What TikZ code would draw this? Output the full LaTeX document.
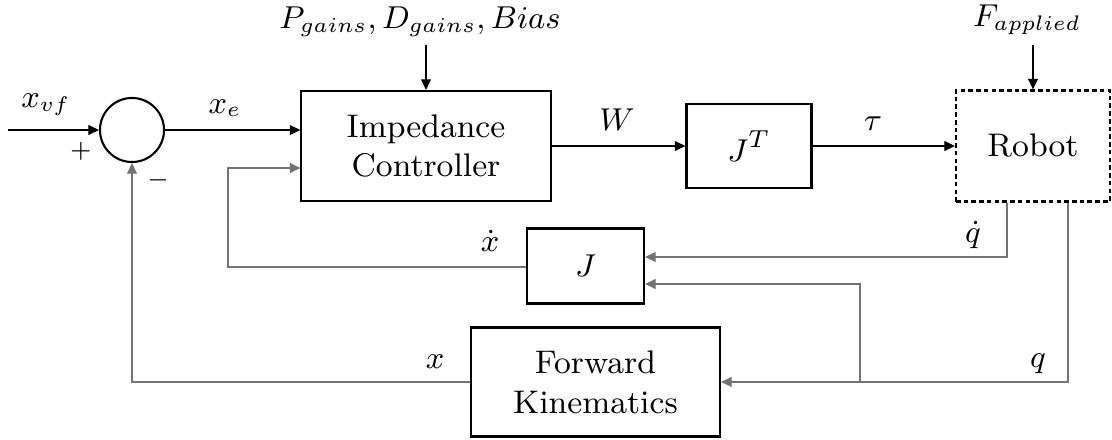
\documentclass[tikz,border=0pt]{standalone}
\usetikzlibrary{arrows.meta,positioning}

\tikzset{
    block/.style={draw, line width=0.6pt, align=center, inner sep=0pt,
        font=\fontsize{9.3}{11.3}\selectfont},
    robotbox/.style={block, dash pattern=on 1.3pt off 0.9pt},
    sumnode/.style={draw, circle, line width=0.6pt, minimum size=0.64cm, inner sep=0pt},
    sig/.style={line width=0.35pt, -{Triangle[length=3pt,width=2.8pt]}},
    fb/.style={sig, draw=black!55},
    lbl/.style={inner sep=0.5pt, font=\fontsize{8.8}{10}\selectfont},
    sgn/.style={inner sep=0pt, font=\fontsize{7}{8}\selectfont}
}

\begin{document}
\begin{tikzpicture}[x=0.01cm, y=-0.01cm]
    \useasboundingbox (0,0) rectangle (1112,440);

    % blocks
    \node[sumnode] (sum) at (132,130) {};
    \node[block, minimum width=2.49cm, minimum height=1.10cm] (imp) at (426,146) {Impedance\\Controller};
    \node[block, minimum width=1.25cm, minimum height=0.84cm] (jt) at (749,146) {$J^T$};
    \node[robotbox, minimum width=1.54cm, minimum height=1.11cm] (robot) at (1033,146) {Robot};
    \node[block, minimum width=1.17cm, minimum height=0.75cm] (jac) at (585.5,266) {$J$};
    \node[block, minimum width=2.49cm, minimum height=1.09cm] (fk) at (595.5,382) {Forward\\Kinematics};

    % inputs
    \coordinate (in) at (8,130);
    \node[lbl] (pgain) at (420,22) {$P_{gains}, D_{gains}, Bias$};
    \node[lbl] (fapp) at (1027,20) {$F_{applied}$};

    % forward path
    \draw[sig] (in) -- (sum.west);
    \draw[sig] (sum.east) -- (sum.east -| imp.west);
    \draw[sig] (imp.east) -- (jt.west);
    \draw[sig] (jt.east) -- (robot.west);
    \draw[sig] (imp.north |- 0,45) -- (imp.north);
    \draw[sig] (robot.north |- 0,45) -- (robot.north);

    % feedback
    \coordinate (br) at (860,382);
    \coordinate (xd) at (228,267);
    \draw[fb] ([xshift=-0.26cm]robot.south) |- ([yshift=0.09cm]jac.east);
    \draw[fb] ([xshift=0.35cm]robot.south) |- (fk.east);
    \draw[fb] (br) |- ([yshift=-0.18cm]jac.east);
    \draw[fb] (fk.west) -| (sum.south);
    \draw[fb] (jac.west |- xd) -- (xd) |- ([yshift=-0.22cm]imp.west);

    % labels
    \node[lbl] (lxvf) at (46,105) {$x_{vf}$};
    \node[lbl] (lxe) at (225,108) {$x_e$};
    \node[lbl] (lw) at (617,120) {$W$};
    \node[lbl] (ltau) at (873,124) {$\tau$};
    \node[lbl] (lqd) at (973,235) {$\dot{q}$};
    \node[lbl] (lq) at (1038,364) {$q$};
    \node[lbl] (lx) at (435,362) {$x$};
    \node[lbl] (lxd) at (490,241) {$\dot{x}$};
    \node[sgn] (plus) at (81,151) {$+$};
    \node[sgn] (minus) at (158,180) {$-$};
\end{tikzpicture}
\end{document}
